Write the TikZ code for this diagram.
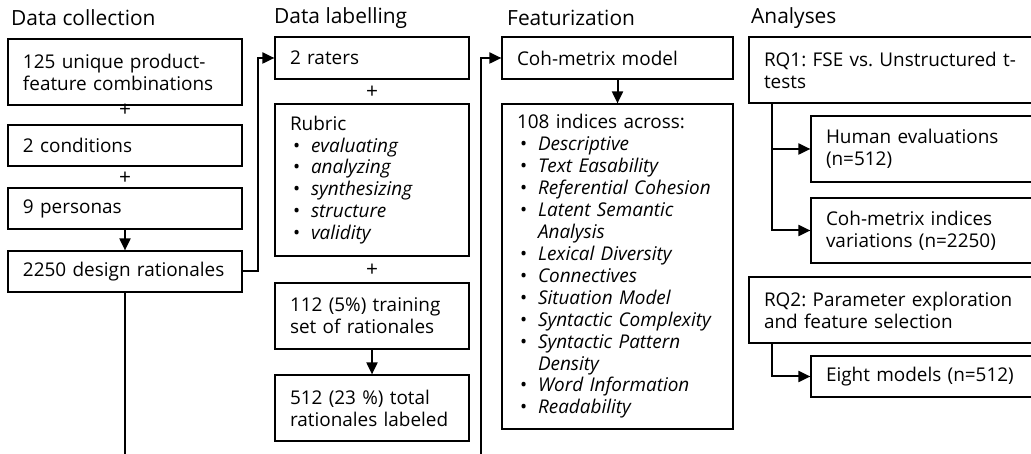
\documentclass[tikz,border=0pt]{standalone}
\usepackage{fontspec}
\setmainfont{Open Sans}
\usetikzlibrary{arrows.meta,calc}
\frenchspacing
\newcommand\fs{\fontsize{19}{22}\selectfont}
\newcommand\ts{\fontsize{21}{22}\selectfont}
\newcommand\bitem[1]{\hspace*{3bp}\makebox[18bp][l]{\textbullet}\textit{#1}}
\newcommand\bcont[1]{\hspace*{21bp}\textit{#1}}
\begin{document}
\begin{tikzpicture}[x=1bp,y=-1bp,
 box/.style={draw,line width=1.2bp,inner xsep=15bp,inner ysep=0pt,align=left,font=\fs},
 conn/.style={line width=2bp,-{Triangle[length=12bp,width=11bp]}},
 ttl/.style={anchor=west,inner sep=0pt,font=\ts},
 plus/.style={inner sep=0pt,font=\fontsize{21}{21}\selectfont}]
\useasboundingbox (0,0) rectangle (1031,454);
\clip (0,0) rectangle (1031,454);
% titles
\node[ttl] (t1) at (11,18) {Data collection};
\node[ttl] (t2) at (274,18) {Data labelling};
\node[ttl] (t3) at (507,18) {Featurization};
\node[ttl] (t4) at (751,18) {Analyses};
% data collection
\node[box,minimum width=234bp,minimum height=66bp,text width=204bp] (b1) at (125,72) {125 unique product-\\feature combinations};
\node[box,minimum width=234bp,minimum height=41bp,text width=204bp] (b2) at (125,145.5) {2 conditions};
\node[box,minimum width=234bp,minimum height=41bp,text width=204bp] (b3) at (125,208.5) {9 personas};
\node[box,minimum width=234bp,minimum height=41bp,text width=204bp] (b4) at (125,271.5) {2250 design rationales};
\node[plus] (p1) at (125,110) {+};
\node[plus] (p2) at (125,178) {+};
% data labelling
\node[box,minimum width=194bp,minimum height=42bp,text width=164bp] (r1) at (372,58) {2 raters};
\node[box,minimum width=194bp,minimum height=152bp,text width=164bp] (r2) at (372,180) {Rubric\\\bitem{evaluating}\\\bitem{analyzing}\\\bitem{synthesizing}\\\bitem{structure}\\\bitem{validity}};
\node[box,minimum width=194bp,minimum height=66bp,text width=164bp] (r3) at (372,316) {112 (5\%) training\\set of rationales};
\node[box,minimum width=194bp,minimum height=66bp,text width=164bp] (r4) at (372,408) {512 (23 \%) total\\rationales labeled};
\node[plus] (p3) at (372,92) {+};
\node[plus] (p4) at (372,270) {+};
% featurization
\node[box,minimum width=231bp,minimum height=42bp,text width=201bp] (f1) at (617.5,58) {Coh-metrix model};
\node[box,minimum width=231bp,minimum height=325bp,text width=201bp] (f2) at (617.5,266.5) {108 indices across:\\\bitem{Descriptive}\\\bitem{Text Easability}\\\bitem{Referential Cohesion}\\\bitem{Latent Semantic}\\\bcont{Analysis}\\\bitem{Lexical Diversity}\\\bitem{Connectives}\\\bitem{Situation Model}\\\bitem{Syntactic Complexity}\\\bitem{Syntactic Pattern}\\\bcont{Density}\\\bitem{Word Information}\\\bitem{Readability}};
% analyses
\node[box,minimum width=311bp,minimum height=66bp,text width=281bp] (a1) at (904.5,70) {RQ1: FSE vs. Unstructured t-\\tests};
\node[box,minimum width=249bp,minimum height=66bp,text width=219bp] (a2) at (935.5,149) {Human evaluations\\(n=512)};
\node[box,minimum width=249bp,minimum height=65bp,text width=219bp] (a3) at (935.5,230.5) {Coh-metrix indices\\variations (n=2250)};
\node[box,minimum width=311bp,minimum height=66bp,text width=281bp] (a4) at (904.5,310) {RQ2: Parameter exploration\\and feature selection};
\node[box,minimum width=249bp,minimum height=41bp,text width=219bp] (a5) at (935.5,376.5) {Eight models (n=512)};
% connectors
\coordinate (c1) at (481,470);
\draw[conn] (b3) -- (b4);
\draw[conn] (b4.east) -- ++(15,0) |- (r1.west);
\draw[conn] (b4.south) |- (c1) |- (f1.west);
\draw[conn] (r3) -- (r4);
\draw[conn] (f1) -- (f2);
\draw[conn] ([xshift=24bp]a1.south west) |- (a2.west);
\draw[conn] ([xshift=24bp]a1.south west) |- (a3.west);
\draw[conn] ([xshift=24bp]a4.south west) |- (a5.west);
\end{tikzpicture}
\end{document}
